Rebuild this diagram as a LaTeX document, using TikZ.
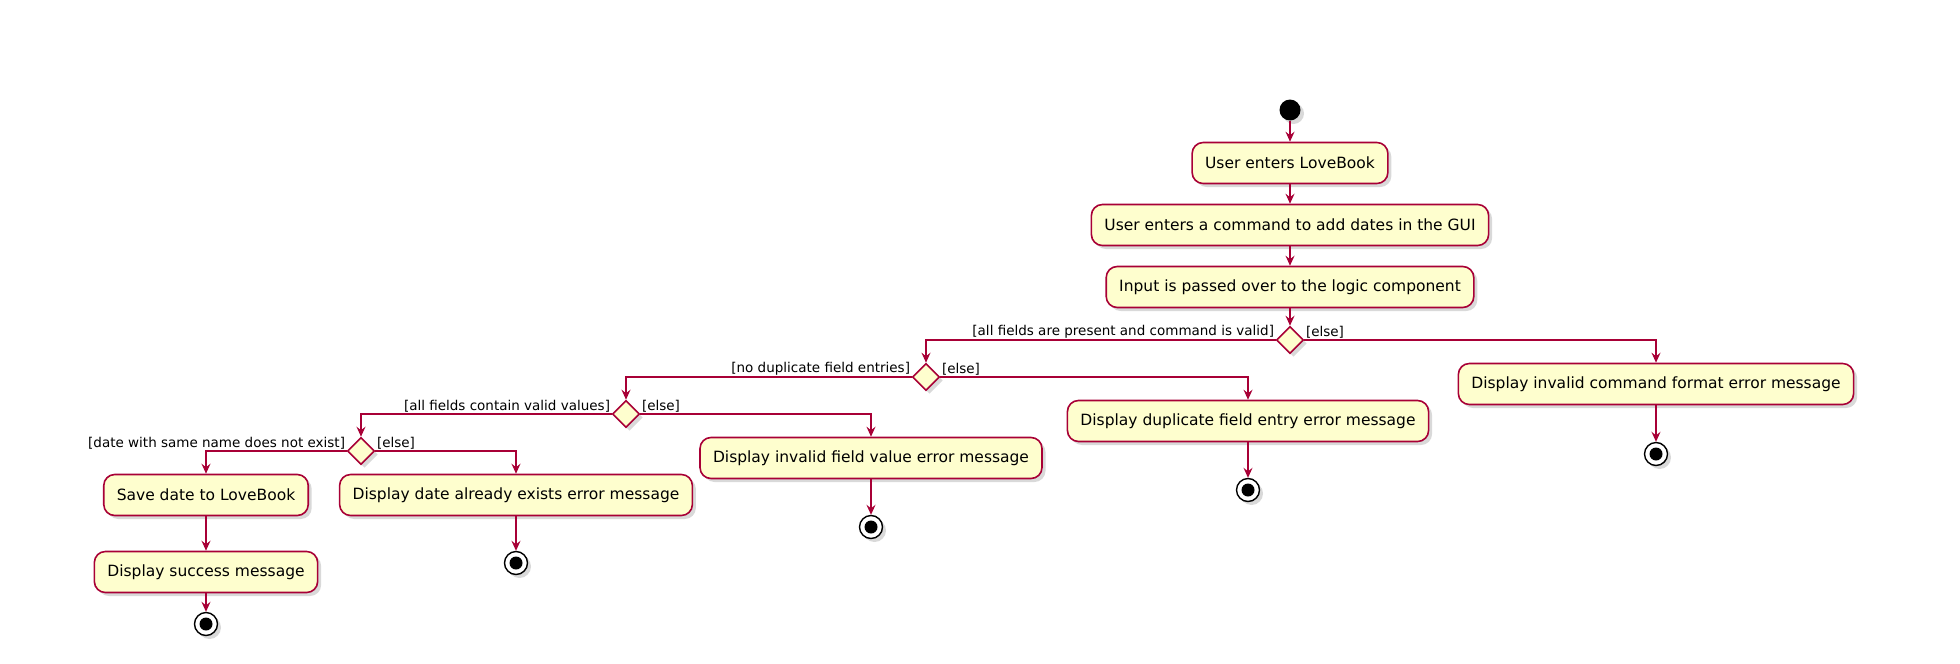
\documentclass[tikz,border=0pt]{standalone}
\usepackage{fontspec}
\setmainfont{DejaVu Sans}
\usetikzlibrary{arrows.meta,shapes.geometric,shadows}

\definecolor{umlred}{HTML}{A80036}
\definecolor{umlfill}{HTML}{FEFECE}

\tikzset{
  shade/.style={drop shadow={opacity=0.3,shadow xshift=3.5pt,shadow yshift=-3.5pt}},
  activity/.style={draw=umlred,fill=umlfill,line width=1.6pt,rounded corners=11pt,
    minimum height=41pt,inner xsep=13pt,font=\fontsize{15.5}{18}\selectfont,shade},
  branch/.style={diamond,draw=umlred,fill=umlfill,line width=1.6pt,
    minimum width=27pt,minimum height=27pt,inner sep=0pt,shade},
  startdot/.style={circle,fill=black,minimum size=21pt,inner sep=0pt,shade},
  stopdot/.style={circle,draw=black,fill=white,line width=1.4pt,minimum size=23pt,
    inner sep=0pt,shade,path picture={\fill[black] (path picture bounding box.center) circle (6.5pt);}},
  flow/.style={draw=umlred,line width=1.3pt,-{Stealth[length=10pt,width=9pt,inset=3.5pt]}},
  guard/.style={font=\fontsize{13.5}{16}\selectfont,inner sep=1.5pt},
}

\begin{document}
\begin{tikzpicture}[x=1pt,y=-1pt]
\useasboundingbox (0,0) rectangle (1960,664);

% main line
\node[startdot] (start) at (1290,110) {};
\node[activity] (enter) at (1290,163) {User enters LoveBook};
\node[activity] (command) at (1290,225) {User enters a command to add dates in the GUI};
\node[activity] (parse) at (1290,287) {Input is passed over to the logic component};
\node[branch] (format) at (1290,340) {};

% command format check
\node[activity] (formaterr) at (1656,384) {Display invalid command format error message};
\node[stopdot] (stopformat) at (1656,454) {};
\node[branch] (dup) at (926,377) {};

% duplicate check
\node[activity] (duperr) at (1248,421) {Display duplicate field entry error message};
\node[stopdot] (stopdup) at (1248,490) {};
\node[branch] (value) at (626,414) {};

% value check
\node[activity] (valueerr) at (871,458) {Display invalid field value error message};
\node[stopdot] (stopvalue) at (871,527) {};
\node[branch] (exists) at (361,451) {};

% existing date check
\node[activity] (existerr) at (516,495) {Display date already exists error message};
\node[stopdot] (stopexist) at (516,563) {};
\node[activity] (save) at (206,495) {Save date to LoveBook};
\node[activity] (success) at (206,572) {Display success message};
\node[stopdot] (stopsave) at (206,624) {};

% guards
\node[guard,anchor=south east] (gformat) at (format.west) {[all fields are present and command is valid]};
\node[guard,anchor=south west] (gformatelse) at (format.east) {[else]};
\node[guard,anchor=south east] (gdup) at (dup.west) {[no duplicate field entries]};
\node[guard,anchor=south west] (gdupelse) at (dup.east) {[else]};
\node[guard,anchor=south east] (gvalue) at (value.west) {[all fields contain valid values]};
\node[guard,anchor=south west] (gvalueelse) at (value.east) {[else]};
\node[guard,anchor=south east] (gexists) at (exists.west) {[date with same name does not exist]};
\node[guard,anchor=south west] (gexistselse) at (exists.east) {[else]};

% connectors
\draw[flow] (start) -- (enter);
\draw[flow] (enter) -- (command);
\draw[flow] (command) -- (parse);
\draw[flow] (parse) -- (format);
\draw[flow] (format.east) -| (formaterr.north);
\draw[flow] (formaterr) -- (stopformat);
\draw[flow] (format.west) -| (dup.north);
\draw[flow] (dup.east) -| (duperr.north);
\draw[flow] (duperr) -- (stopdup);
\draw[flow] (dup.west) -| (value.north);
\draw[flow] (value.east) -| (valueerr.north);
\draw[flow] (valueerr) -- (stopvalue);
\draw[flow] (value.west) -| (exists.north);
\draw[flow] (exists.east) -| (existerr.north);
\draw[flow] (existerr) -- (stopexist);
\draw[flow] (exists.west) -| (save.north);
\draw[flow] (save) -- (success);
\draw[flow] (success) -- (stopsave);
\end{tikzpicture}
\end{document}
